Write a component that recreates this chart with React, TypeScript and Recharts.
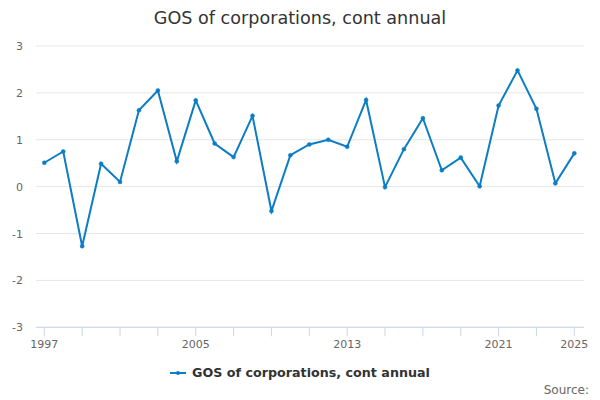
import React from 'react';
import { LineChart, Line, XAxis, YAxis, CartesianGrid } from 'recharts';

const years = [1997,1998,1999,2000,2001,2002,2003,2004,2005,2006,2007,2008,2009,2010,2011,2012,2013,2014,2015,2016,2017,2018,2019,2020,2021,2022,2023,2024,2025];
const values = [0.51,0.75,-1.27,0.49,0.1,1.63,2.05,0.54,1.84,0.92,0.63,1.51,-0.52,0.67,0.9,1.0,0.85,1.85,-0.01,0.8,1.46,0.35,0.62,0.01,1.73,2.48,1.66,0.07,0.71];
const xTicks = [1997,1999,2001,2003,2005,2007,2009,2011,2013,2015,2017,2019,2021,2023,2025];
const xLabels = [1997,2005,2013,2021,2025];
const yTicks = [-3,-2,-1,0,1,2,3];
const seriesName = 'GOS of corporations, cont annual';
const title = 'GOS of corporations, cont annual';

const data = years.map((y, i) => ({ year: y, value: values[i] }));

const COLOR = '#0b7dc5';
const FONT = '"DejaVu Sans", sans-serif';

const XTick = (props: any) => {
  const { x, y, payload } = props;
  if (!xLabels.includes(payload.value)) return null;
  return (
    <text x={x} y={y + 10} textAnchor="middle" fontFamily={FONT} fontSize={11} fill="#666">
      {payload.value}
    </text>
  );
};

const YTick = (props: any) => {
  const { y, payload } = props;
  return (
    <text x={23} y={y + 4} textAnchor="end" fontFamily={FONT} fontSize={11} fill="#666">
      {payload.value}
    </text>
  );
};

export default function App() {
  return (
    <div style={{ position: 'absolute', left: 0, top: 0, width: 600, height: 400, background: '#fff', fontFamily: FONT }}>
      <div style={{ position: 'absolute', top: 6, left: 0, width: 600, textAlign: 'center', fontSize: 17.6, color: '#333', lineHeight: '24px' }}>
        {title}
      </div>
      <LineChart width={600} height={400} data={data} margin={{ top: 46, right: 16, bottom: 42.7, left: 0 }}>
        <CartesianGrid horizontal vertical={false} stroke="#e6e6e6" />
        <XAxis
          dataKey="year"
          type="number"
          domain={[1997, 2025]}
          ticks={xTicks}
          interval={0}
          padding={{ left: 8.3, right: 9.7 }}
          height={30}
          stroke="#ccd6eb"
          tickLine={{ stroke: '#ccd6eb' }}
          tickSize={9}
          tick={<XTick />}
        />
        <YAxis
          type="number"
          domain={[-3, 3]}
          ticks={yTicks}
          interval={0}
          width={36}
          axisLine={false}
          tickLine={false}
          tick={<YTick />}
        />
        <Line
          type="linear"
          dataKey="value"
          stroke={COLOR}
          strokeWidth={2}
          dot={{ r: 2, fill: COLOR, stroke: COLOR, strokeWidth: 0.5 }}
          activeDot={false}
          isAnimationActive={false}
        />
      </LineChart>
      <div style={{ position: 'absolute', top: 364, left: 0, width: 600, display: 'flex', justifyContent: 'center', alignItems: 'center' }}>
        <svg width={16} height={10} style={{ marginRight: 6 }}>
          <line x1={0} y1={5} x2={16} y2={5} stroke={COLOR} strokeWidth={2} />
          <circle cx={8} cy={5} r={2} fill={COLOR} />
        </svg>
        <span style={{ fontSize: 12.7, fontWeight: 'bold', color: '#333', lineHeight: '18px' }}>{seriesName}</span>
      </div>
      <div style={{ position: 'absolute', top: 382, right: 11, fontSize: 12, color: '#666', lineHeight: '16px' }}>
        Source:
      </div>
    </div>
  );
}
